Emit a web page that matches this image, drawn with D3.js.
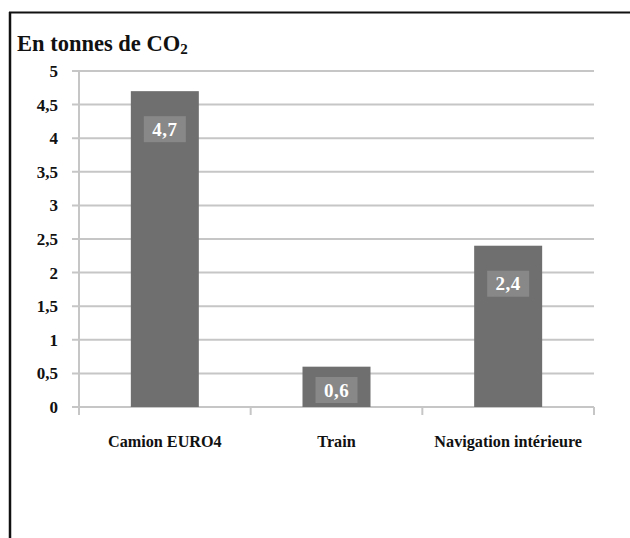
<!DOCTYPE html>
<html>
<head>
<meta charset="utf-8">
<script src="https://cdn.jsdelivr.net/npm/d3@7"></script>
<style>
  html, body { margin: 0; padding: 0; background: #fff; }
  svg { display: block; }
  text { font-family: "Liberation Serif", "Times New Roman", serif; font-weight: bold; }
</style>
</head>
<body>
<svg id="chart" width="630" height="538"></svg>
<script>
// Émissions de CO2 par mode de transport
const categories = ["Camion EURO4", "Train", "Navigation intérieure"];
const values = [4.7, 0.6, 2.4];
const valueLabels = ["4,7", "0,6", "2,4"];
const yTicks = [0, 0.5, 1, 1.5, 2, 2.5, 3, 3.5, 4, 4.5, 5];
const yTickLabels = ["0", "0,5", "1", "1,5", "2", "2,5", "3", "3,5", "4", "4,5", "5"];

const svg = d3.select("#chart");
const W = 630, H = 538;

// Cadre
svg.append("line").attr("x1", 9).attr("x2", W).attr("y1", 12.5).attr("y2", 12.5)
  .attr("stroke", "#111").attr("stroke-width", 2);
svg.append("line").attr("x1", 10).attr("x2", 10).attr("y1", 12).attr("y2", H)
  .attr("stroke", "#111").attr("stroke-width", 2.5);

// Titre
const title = svg.append("text").attr("x", 17).attr("y", 51)
  .attr("font-size", 22.5).attr("fill", "#111");
title.append("tspan").text("En tonnes de CO");
title.append("tspan").text("2").attr("font-size", 15).attr("dy", 3);

const plotLeft = 79, plotRight = 594, plotTop = 71, plotBottom = 407;

const x = d3.scaleBand().domain(categories).range([plotLeft, plotRight]).paddingInner(0).paddingOuter(0);
const y = d3.scaleLinear().domain([0, 5]).range([plotBottom, plotTop]);

// Quadrillage horizontal
svg.append("g").selectAll("line").data(yTicks).join("line")
  .attr("x1", plotLeft - 7).attr("x2", plotRight)
  .attr("y1", d => y(d)).attr("y2", d => y(d))
  .attr("stroke", "#c6c6c6").attr("stroke-width", 2);

// Axe vertical
svg.append("line").attr("x1", plotLeft).attr("x2", plotLeft).attr("y1", plotTop).attr("y2", plotBottom + 7)
  .attr("stroke", "#c6c6c6").attr("stroke-width", 2);

// Graduations de l'axe horizontal
const bounds = categories.map(c => x(c)).concat([plotRight]);
svg.append("g").selectAll("line").data(bounds).join("line")
  .attr("x1", d => d).attr("x2", d => d)
  .attr("y1", plotBottom).attr("y2", plotBottom + 8)
  .attr("stroke", "#c6c6c6").attr("stroke-width", 2);

// Étiquettes de l'axe vertical
svg.append("g").selectAll("text").data(yTicks).join("text")
  .attr("x", 58).attr("y", d => y(d) + 6)
  .attr("text-anchor", "end").attr("font-size", 17).attr("fill", "#111")
  .text((d, i) => yTickLabels[i]);

// Barres
const barW = 68;
svg.append("g").selectAll("rect").data(values).join("rect")
  .attr("x", (d, i) => x(categories[i]) + x.bandwidth() / 2 - barW / 2)
  .attr("y", d => y(d))
  .attr("width", barW)
  .attr("height", d => y(0) - y(d))
  .attr("fill", "#6f6f6f");

// Étiquettes de valeur
const lab = svg.append("g").selectAll("g").data(values).join("g")
  .attr("transform", (d, i) => {
    const cx = x(categories[i]) + x.bandwidth() / 2;
    const cy = Math.min(y(d) + 38, plotBottom - 17);
    return `translate(${cx},${cy})`;
  });
lab.append("rect").attr("x", -21).attr("y", -13).attr("width", 42).attr("height", 26)
  .attr("fill", "#888888");
lab.append("text").attr("y", 6.5).attr("text-anchor", "middle")
  .attr("font-size", 19).attr("fill", "#fff").attr("letter-spacing", 0.5)
  .text((d, i) => valueLabels[i]);

// Étiquettes des catégories
svg.append("g").selectAll("text").data(categories).join("text")
  .attr("x", d => x(d) + x.bandwidth() / 2).attr("y", 447)
  .attr("text-anchor", "middle").attr("font-size", 16.2).attr("fill", "#111")
  .text(d => d);
</script>
</body>
</html>
